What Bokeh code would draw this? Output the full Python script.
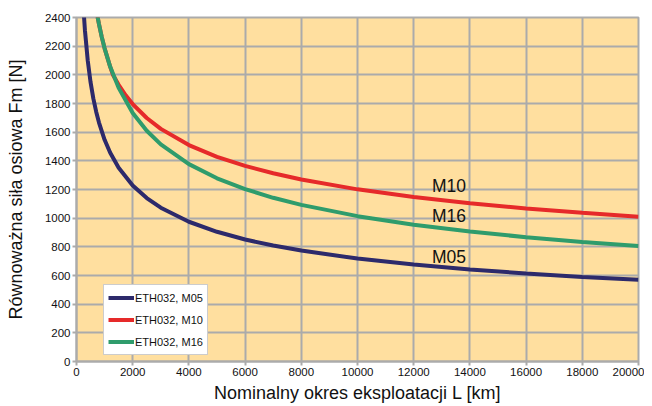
from bokeh.plotting import figure
from bokeh.models import Legend, LegendItem, Range1d, FixedTicker, Label
from bokeh.embed import file_html
from bokeh.resources import INLINE

# Data
L_m05 = [250, 300, 400, 500, 600, 700, 800, 1000, 1200, 1500, 2000, 2500, 3000, 4000, 5000,
         6000, 7000, 8000, 10000, 12000, 14000, 16000, 18000, 20000]
F_m05 = [2456, 2311, 2100, 1949, 1834, 1743, 1667, 1547, 1456, 1352, 1228, 1140, 1073, 975, 905,
         851, 809, 774, 718, 676, 642, 614, 590, 570]

L_m16 = [750, 800, 900, 1000, 1200, 1500, 2000, 2500, 3000, 4000, 5000, 6000, 7000, 8000,
         10000, 12000, 14000, 16000, 18000, 20000]
F_m16 = [2405, 2354, 2263, 2185, 2056, 1909, 1734, 1610, 1515, 1377, 1278, 1203, 1142, 1093,
         1014, 954, 907, 867, 834, 805]

L_m10 = [750, 800, 900, 1000, 1200, 1300, 1500, 1750, 2000, 2500, 3000, 4000, 5000, 6000, 7000,
         8000, 10000, 12000, 14000, 16000, 18000, 20000]
F_m10 = [2405, 2354, 2263, 2185, 2056, 1998, 1930, 1857, 1796, 1699, 1623, 1510, 1428, 1365, 1313,
         1270, 1201, 1148, 1104, 1068, 1037, 1010]

series_names = ["ETH032, M05", "ETH032, M10", "ETH032, M16"]
curve_labels = ["M10", "M16", "M05"]
x_ticks = list(range(0, 20001, 2000))
y_ticks = list(range(0, 2401, 200))
x_title = "Nominalny okres eksploatacji L [km]"
y_title = "Równoważna siła osiowa Fm [N]"

C_M05 = "#2d2a6b"
C_M10 = "#e62a2a"
C_M16 = "#2f9c6c"
GRID = "#ababab"
FONT = "Liberation Sans"

p = figure(width=644, height=406, output_backend="svg", toolbar_location=None,
           x_range=Range1d(0, 20000), y_range=Range1d(0, 2400),
           min_border_left=76, min_border_right=6, min_border_top=17, min_border_bottom=45)

p.background_fill_color = "#ffdf9f"
p.border_fill_color = "white"
p.outline_line_color = GRID
p.outline_line_width = 2

for ax, ticks in ((p.xaxis, x_ticks), (p.yaxis, y_ticks)):
    ax.ticker = FixedTicker(ticks=ticks)
    ax.minor_tick_line_color = None
    ax.major_tick_in = 0
    ax.major_tick_out = 4
    ax.major_tick_line_color = GRID
    ax.major_tick_line_width = 2
    ax.axis_line_color = GRID
    ax.axis_line_width = 2
    ax.major_label_text_font = FONT
    ax.major_label_text_font_size = "11.5px"
    ax.major_label_text_color = "#111111"
    ax.axis_label_text_font = FONT
    ax.axis_label_text_font_size = "18px"
    ax.axis_label_text_font_style = "normal"
    ax.axis_label_text_color = "#111111"

p.xaxis.major_label_standoff = 2
p.yaxis.major_label_standoff = 2
p.yaxis.axis_label = y_title
p.yaxis.axis_label_standoff = 16
p.xaxis.axis_label = x_title
p.xaxis.axis_label_standoff = 4

p.xgrid.ticker = FixedTicker(ticks=x_ticks)
p.ygrid.ticker = FixedTicker(ticks=y_ticks)
p.grid.grid_line_color = GRID
p.grid.grid_line_width = 2

r05 = p.line(L_m05, F_m05, line_color=C_M05, line_width=4)
r10 = p.line(L_m10, F_m10, line_color=C_M10, line_width=4)
r16 = p.line(L_m16, F_m16, line_color=C_M16, line_width=4)

legend = Legend(items=[LegendItem(label=series_names[0], renderers=[r05]),
                       LegendItem(label=series_names[1], renderers=[r10]),
                       LegendItem(label=series_names[2], renderers=[r16])],
                location=(27, 6))
legend.label_text_font = FONT
legend.label_text_font_size = "11px"
legend.label_text_color = "#111111"
legend.glyph_width = 26
legend.glyph_height = 17
legend.label_height = 17
legend.label_standoff = 1
legend.spacing = 5
legend.padding = 4
legend.margin = 0
legend.border_line_color = "#9a9a9a"
legend.border_line_width = 1
legend.background_fill_color = "white"
legend.background_fill_alpha = 1
p.add_layout(legend, "center")

label_pos = [(12650, 1225), (12650, 1016), (12650, 731)]
for txt, (lx, ly) in zip(curve_labels, label_pos):
    p.add_layout(Label(x=lx, y=ly, text=txt, text_font=FONT, text_font_size="17.5px",
                       text_color="#111111", text_baseline="middle", text_align="left"))

open("out.html", "w").write(file_html(p, INLINE))
